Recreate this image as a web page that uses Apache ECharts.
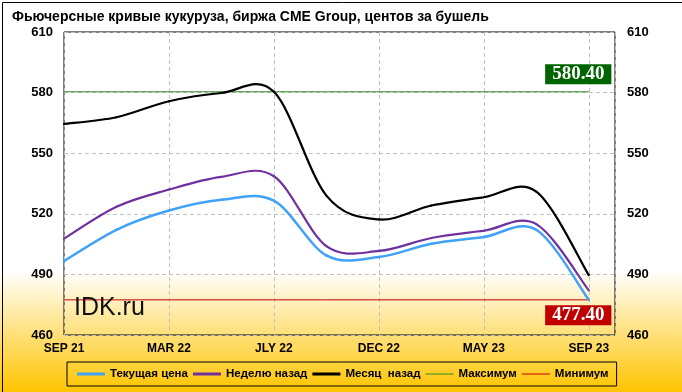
<!DOCTYPE html>
<html>
<head>
<meta charset="utf-8">
<script src="https://cdn.jsdelivr.net/npm/echarts@6/dist/echarts.min.js"></script>
<style>
html,body{margin:0;padding:0;}
#c{width:682px;height:392px;}
</style>
</head>
<body>
<div id="c"></div>
<script>
// Contract months (category index = position on the x axis)
const categories = ['SEP 21','DEC 21','MAR 22','MAY 22','JLY 22','SEP 22','DEC 22','MAR 23','MAY 23','JLY 23','SEP 23'];
// tick labels shown every other contract
const tickLabels = {0:'SEP 21',2:'MAR 22',4:'JLY 22',6:'DEC 22',8:'MAY 23',10:'SEP 23'};

const currentPrice = [496.6, 512.1, 521.6, 526.9, 526.5, 499.4, 498.6, 505.2, 508.5, 512.1, 477.4];
const weekAgo      = [507.7, 523.5, 532.0, 538.3, 538.6, 504.0, 501.6, 508.0, 511.6, 514.9, 482.1];
const monthAgo     = [564.5, 567.8, 575.7, 579.8, 580.4, 529.0, 517.2, 524.1, 528.2, 531.0, 489.6];
const maxValue = 580.40;
const minValue = 477.40;

const yTicks = {min: 460, max: 610, interval: 30};

function pairs(arr){ return arr.map((v,i)=>[i,v]); }
function flat(v){ return [[0,v],[categories.length-1,v]]; }

// Smoothed curve (Catmull-Rom style, like the spreadsheet's smoothing) drawn
// segment by segment through the chart's own coordinate system.
function curveSeries(name, arr, color, width){
  return {
    name, type:'custom', coordinateSystem:'cartesian2d', xAxisIndex:0, yAxisIndex:0,
    data:pairs(arr), z:4, silent:true, itemStyle:{color},
    renderItem:(params, api)=>{
      const i = params.dataIndex, n = arr.length;
      if (i >= n-1) return null;
      const P = (k)=>api.coord([Math.max(0,Math.min(n-1,k)), arr[Math.max(0,Math.min(n-1,k))]]);
      const p0 = P(i-1), p1 = P(i), p2 = P(i+1), p3 = P(i+2);
      return {
        type:'bezierCurve',
        shape:{x1:p1[0], y1:p1[1], x2:p2[0], y2:p2[1],
               cpx1:p1[0]+(p2[0]-p0[0])/6, cpy1:p1[1]+(p2[1]-p0[1])/6,
               cpx2:p2[0]-(p3[0]-p1[0])/6, cpy2:p2[1]-(p3[1]-p1[1])/6},
        style:{stroke:color, lineWidth:width, fill:null, lineCap:'round'}
      };
    }
  };
}

const chart = echarts.init(document.getElementById('c'), null, {renderer:'canvas'});
const axisFont = {fontFamily:'Liberation Sans, Arial, sans-serif', fontWeight:'bold', color:'#000'};
const thick = 'path://M0 0H28V3H0Z';
const thin = 'path://M0 0H28V1H0Z';

const option = {
  animation:false,
  backgroundColor: {
    type:'linear', x:0, y:0, x2:0, y2:1,
    colorStops:[{offset:0,color:'#ffffff'},{offset:0.69,color:'#ffffff'},{offset:1,color:'#FFC400'}]
  },
  title:{
    text:'Фьючерсные кривые кукуруза, биржа CME Group, центов за бушель',
    left:7, top:5,
    textStyle:{fontFamily:'Liberation Sans, Arial, sans-serif', fontWeight:'bold', fontSize:14, color:'#000'}
  },
  grid:{left:64, right:67, top:32, bottom:57, show:true, borderColor:'#000', borderWidth:1, backgroundColor:'transparent'},
  xAxis:{
    type:'value', min:0, max:10.5, interval:2,
    axisLine:{show:false}, axisTick:{show:false},
    axisLabel:Object.assign({fontSize:12, margin:8, showMaxLabel:false,
      formatter:(v)=> (tickLabels[v]!==undefined ? tickLabels[v] : '')}, axisFont),
    splitLine:{show:true, lineStyle:{color:'#C0C0C0', type:[4,3], width:1}}
  },
  yAxis:[
    {type:'value', min:yTicks.min, max:yTicks.max, interval:yTicks.interval, position:'left',
     axisLine:{show:false}, axisTick:{show:false},
     axisLabel:Object.assign({fontSize:13, margin:11}, axisFont),
     splitLine:{show:true, lineStyle:{color:'#C0C0C0', type:[4,3], width:1}}},
    {type:'value', min:yTicks.min, max:yTicks.max, interval:yTicks.interval, position:'right',
     axisLine:{show:false}, axisTick:{show:false},
     axisLabel:Object.assign({fontSize:13, margin:12}, axisFont),
     splitLine:{show:false}}
  ],
  legend:{
    left:67, top:362,
    padding:[6,8,6,10],
    borderColor:'#000', borderWidth:1, borderRadius:0,
    itemWidth:28, itemHeight:10, itemGap:5, symbolKeepAspect:true,
    textStyle:{fontFamily:'Liberation Sans, Arial, sans-serif', fontWeight:'bold', fontSize:11.5, color:'#000'},
    data:[
      {name:'Текущая цена', icon:thick, itemStyle:{color:'#3FA2F7', borderWidth:0}},
      {name:'Неделю назад', icon:thick, itemStyle:{color:'#7030A0', borderWidth:0}},
      {name:'Месяц  назад', icon:thick, itemStyle:{color:'#000000', borderWidth:0}},
      {name:'Максимум', icon:thin, itemStyle:{color:'#2E8B1E', borderWidth:0}},
      {name:'Минимум', icon:thin, itemStyle:{color:'#C00000', borderWidth:0}}
    ]
  },
  graphic:[
    {type:'text', left:74, top:296, z:10,
     style:{text:'IDK.ru', font:'25px "Liberation Sans", Arial, sans-serif', fill:'#111'}},
    {type:'rect', left:0, top:0, z:100, silent:true,
     shape:{x:0.5,y:0.5,width:681,height:391}, style:{fill:'none', stroke:'#000', lineWidth:1}}
  ],
  series:[
    {name:'Максимум', type:'line', data:flat(maxValue), symbol:'none', z:2,
     lineStyle:{color:'#2E8B1E', width:1}, itemStyle:{color:'#2E8B1E'},
     markPoint:{symbol:'circle', symbolSize:0, silent:true, itemStyle:{color:'transparent'},
       data:[{coord:[10,maxValue], value:maxValue}],
       label:{show:true, position:'inside', offset:[-10.5,-17.5], formatter:(p)=>p.value.toFixed(2),
         backgroundColor:'#006400', color:'#fff', fontFamily:'Liberation Serif, serif', fontWeight:'bold', fontSize:19,
         padding:[1,7,0,7], lineHeight:19}}},
    {name:'Минимум', type:'line', data:flat(minValue), symbol:'none', z:2,
     lineStyle:{color:'#C00000', width:1}, itemStyle:{color:'#C00000'},
     markPoint:{symbol:'circle', symbolSize:0, silent:true, itemStyle:{color:'transparent'},
       data:[{coord:[10,minValue], value:minValue}],
       label:{show:true, position:'inside', offset:[-10.5,15.5], formatter:(p)=>p.value.toFixed(2),
         backgroundColor:'#C00000', color:'#fff', fontFamily:'Liberation Serif, serif', fontWeight:'bold', fontSize:19,
         padding:[1,7,0,7], lineHeight:19}}},
    curveSeries('Текущая цена', currentPrice, '#3FA2F7', 2.5),
    curveSeries('Неделю назад', weekAgo, '#7030A0', 2.2),
    curveSeries('Месяц  назад', monthAgo, '#000000', 2.2)
  ]
};
chart.setOption(option);
</script>
</body>
</html>
